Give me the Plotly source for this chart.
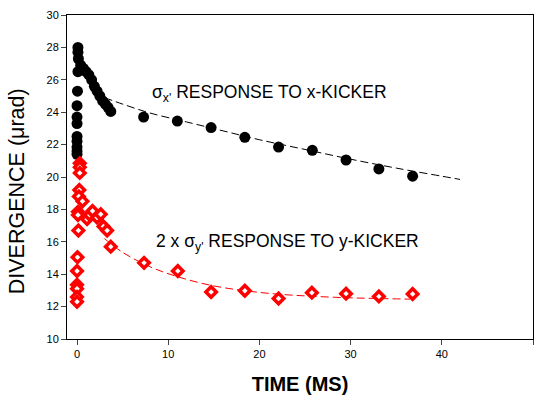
import plotly.graph_objects as go

# Black: sigma_x' response to x-kicker
x_black = [0.1, 0.1, 0.15, 0.1, 0.05, 0.0, 0.0, 0.0, 0.0, 0.0, 0.0, 0.0, 0.0,
           0.4, 0.7, 1.0, 1.3, 1.6, 1.9, 2.2, 2.5, 2.8, 3.1, 3.4, 3.7,
           7.3, 11.0, 14.7, 18.4, 22.1, 25.8, 29.5, 33.1, 36.8]
y_black = [28.0, 27.7, 27.3, 26.5, 25.3, 24.4, 23.7, 23.3, 22.5, 22.2, 21.85, 21.6, 21.4,
           26.9, 26.7, 26.5, 26.3, 26.0, 25.6, 25.3, 25.0, 24.7, 24.5, 24.3, 24.05,
           23.7, 23.45, 23.05, 22.45, 21.85, 21.65, 21.05, 20.5, 20.05]

# Red: 2 x sigma_y' response to y-kicker
x_red = [0.3, 0.3, 0.3, 0.25, 0.2, 0.6, 0.1, 0.1, 0.15,
         1.1, 1.4, 1.7, 2.2, 2.6, 2.9, 3.3, 3.7,
         0.05, 0.0, 0.0, 0.0, 0.0, 0.0,
         7.35, 11.05, 14.7, 18.4, 22.1, 25.75, 29.5, 33.1, 36.8]
y_red = [20.85, 20.6, 20.25, 19.2, 18.8, 18.5, 17.85, 17.65, 16.7,
         17.4, 17.65, 17.9, 17.5, 17.7, 16.95, 16.7, 15.7,
         15.05, 14.2, 13.35, 13.1, 12.6, 12.3,
         14.7, 14.2, 12.9, 12.98, 12.5, 12.86, 12.8, 12.63, 12.78]

# Fitted curves
fit_black_x = [3.0, 5.0, 8.0, 12.0, 16.0, 20.0, 25.0, 30.0, 35.0, 40.0, 42.0]
fit_black_y = [24.9, 24.5, 23.95, 23.4, 22.85, 22.3, 21.7, 21.1, 20.55, 20.05, 19.85]
fit_red_x = [3.0, 5.0, 8.0, 11.0, 14.7, 18.4, 22.0, 25.7, 29.5, 33.0, 36.5]
fit_red_y = [16.2, 15.35, 14.46, 13.85, 13.31, 12.98, 12.77, 12.64, 12.55, 12.5, 12.46]

x_ticks = [0, 10, 20, 30, 40, 50]
y_ticks = [10, 12, 14, 16, 18, 20, 22, 24, 26, 28, 30]

label_black = "σ<sub>x'</sub> RESPONSE TO x-KICKER"
label_red = "2 x σ<sub>y'</sub> RESPONSE TO y-KICKER"
y_title = "DIVERGENCE (μrad)"
x_title = "<b>TIME (MS)</b>"

FONT = "Arial, Liberation Sans, sans-serif"

fig = go.Figure()
fig.add_trace(go.Scatter(x=fit_black_x, y=fit_black_y, mode="lines",
                         line=dict(color="black", width=1, dash="8px,4px", shape="spline"),
                         hoverinfo="skip"))
fig.add_trace(go.Scatter(x=fit_red_x, y=fit_red_y, mode="lines",
                         line=dict(color="red", width=1, dash="8px,4px", shape="spline"),
                         hoverinfo="skip"))
fig.add_trace(go.Scatter(x=x_black, y=y_black, mode="markers",
                         marker=dict(symbol="circle", size=11, color="black")))
fig.add_trace(go.Scatter(x=x_red, y=y_red, mode="markers",
                         marker=dict(symbol="diamond", size=8, color="white",
                                     line=dict(color="red", width=3.5))))

fig.add_annotation(text=label_black, x=8.0, y=24.3,
                   xanchor="left", yanchor="bottom", showarrow=False,
                   font=dict(family=FONT, size=17.5, color="black"))
fig.add_annotation(text=label_red, x=8.4, y=15.1,
                   xanchor="left", yanchor="bottom", showarrow=False,
                   font=dict(family=FONT, size=17.5, color="black"))
fig.add_annotation(text=y_title, xref="paper", yref="paper", x=-0.108, y=0.455,
                   xanchor="center", yanchor="middle", textangle=-90, showarrow=False,
                   font=dict(family=FONT, size=21.5, color="black"))

fig.update_layout(
    width=538, height=399,
    margin=dict(l=67, r=5, t=15, b=60),
    paper_bgcolor="white", plot_bgcolor="white",
    showlegend=False,
    font=dict(family=FONT, size=11, color="black"),
    xaxis=dict(range=[-1.1, 50], tickvals=x_ticks, ticks="outside", ticklen=5,
               showline=True, linecolor="black", linewidth=1, mirror=True,
               showgrid=False, zeroline=False,
               title=dict(text=x_title, font=dict(family=FONT, size=20), standoff=17)),
    yaxis=dict(range=[10, 30], tickvals=y_ticks, ticks="outside", ticklen=5,
               showline=True, linecolor="black", linewidth=1, mirror=True,
               showgrid=False, zeroline=False),
)

fig.write_html("out.html")
